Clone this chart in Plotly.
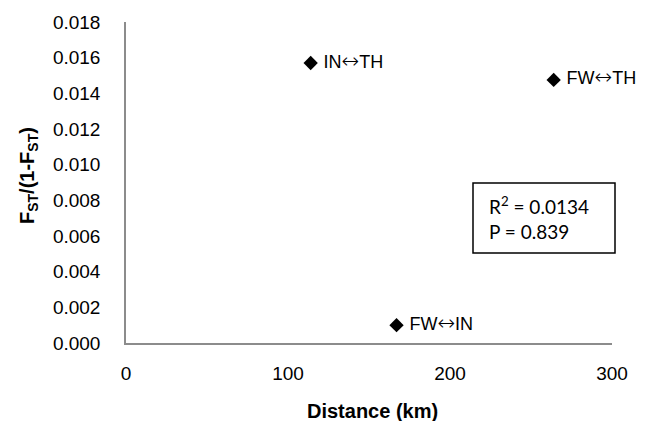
import plotly.graph_objects as go

distance_km = [114, 264, 167]
fst_ratio = [0.0157, 0.01475, 0.0010]
pair_labels = ["IN\u2194TH", "FW\u2194TH", "FW\u2194IN"]
x_ticks = [0, 100, 200, 300]
y_ticks = [0.000, 0.002, 0.004, 0.006, 0.008, 0.010, 0.012, 0.014, 0.016, 0.018]
stats_text = "R<sup>2</sup> = 0.0134<br>P = 0.839"
x_title = "<b>Distance (km)</b>"
y_title = "<b>F<sub>ST</sub>/(1-F<sub>ST</sub>)</b>"

font_main = "Liberation Sans, Arial, sans-serif"

# page offset (body margin)
O = 8
PAGE_W, PAGE_H = 659, 421
W, H = PAGE_W - O, PAGE_H - O
# plot area in page pixels
AX_L, AX_R, AX_T, AX_B = 126, 612, 22, 343
L, R, T, B = AX_L - O, PAGE_W - AX_R, AX_T - O, PAGE_H - AX_B
PW, PH = AX_R - AX_L, AX_B - AX_T

def px(xp):
    return (xp - AX_L) / PW

def py(yp):
    return (AX_B - yp) / PH

arrow_html = ('<span style="font-family:\'DejaVu Sans ExtraLight\',\'DejaVu Sans\';'
              'font-weight:200;font-size:21px">\u2194</span>')
label_html = [" " + t.replace("\u2194", arrow_html) for t in pair_labels]

fig = go.Figure()
fig.add_trace(go.Scatter(
    x=distance_km, y=fst_ratio, mode="markers+text",
    text=label_html, textposition="middle right",
    textfont=dict(family=font_main, size=18, color="#000"),
    marker=dict(symbol="diamond", size=11, color="#000"),
    cliponaxis=False, showlegend=False,
))

fig.update_layout(
    width=W, height=H,
    margin=dict(l=L, r=R, t=T, b=B),
    paper_bgcolor="white", plot_bgcolor="white",
    font=dict(family=font_main, size=18, color="#000"),
    xaxis=dict(range=[0, 300], tickvals=x_ticks, ticktext=[str(v) for v in x_ticks],
               showgrid=False, zeroline=False, showline=True, linecolor="#8c8c8c",
               linewidth=1.5, ticks="", ticklabelstandoff=12, automargin=False,
               tickfont=dict(size=19, family=font_main)),
    yaxis=dict(range=[0, 0.018], tickvals=y_ticks, ticktext=[f"{v:.3f}" for v in y_ticks],
               showgrid=False, zeroline=False, showline=True, linecolor="#8c8c8c",
               linewidth=1.5, ticks="", ticklabelstandoff=20, automargin=False,
               tickfont=dict(size=19, family=font_main)),
)

fig.add_annotation(xref="paper", yref="paper", x=px(372), y=py(411),
                   xanchor="center", yanchor="middle", text=x_title, showarrow=False,
                   font=dict(family=font_main, size=20, color="#000"))
fig.add_annotation(xref="paper", yref="paper", x=px(28), y=py(176),
                   xanchor="center", yanchor="middle", text=y_title, showarrow=False,
                   textangle=-90, font=dict(family=font_main, size=20, color="#000"))

fig.add_shape(type="rect", xref="paper", yref="paper",
              x0=px(473), x1=px(615), y0=py(253), y1=py(183),
              line=dict(color="#000", width=1.5), fillcolor="white")
fig.add_annotation(xref="paper", yref="paper",
                   x=px(487), y=py(218),
                   xanchor="left", yanchor="middle", align="left",
                   text=stats_text, showarrow=False,
                   font=dict(family="Lato, Liberation Sans, sans-serif", size=19, color="#000"))

fig.write_html("out.html")
